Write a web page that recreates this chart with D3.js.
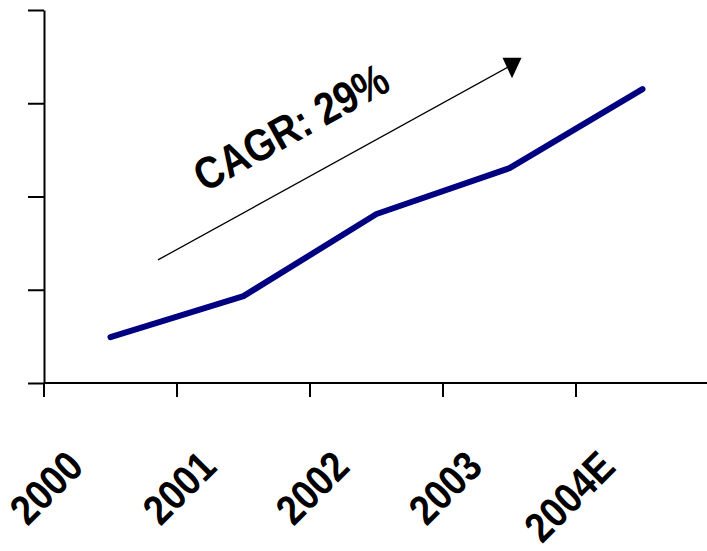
<!DOCTYPE html>
<html>
<head>
<meta charset="utf-8">
<script src="https://cdn.jsdelivr.net/npm/d3@7"></script>
<style>
    body { margin: 0; background: #fff; }
    svg { display: block; font-family: "Liberation Sans", Arial, sans-serif; }
</style>
</head>
<body>
<div id="chart"></div>
<script>
const years = ["2000", "2001", "2002", "2003", "2004E"]
const values = [12.3, 23.3, 45.3, 57.6, 78.8]
const yTicks = [0, 25, 50, 75, 100]
// arrow: positions in category-index units and y units
const arrowFrom = [0.857, 33.0]
const arrowTo = [3.519, 85.3]
const cagrLabel = "CAGR: 29%"
const cagrAt = [1.857, 68.6]

const width = 707, height = 551
const margin = { top: 10, right: 0, bottom: 168, left: 44 }
const plotH = height - margin.top - margin.bottom

const svg = d3.select("#chart")
    .append("svg")
    .attr("width", width)
    .attr("height", height)

const g = svg.append("g")
    .attr("transform", `translate(${margin.left},${margin.top})`)

const x = d3.scaleBand()
    .domain(years)
    .range([0, 665])
    .padding(0)

// same span as x, but continuous, for the annotation arrow
const xi = d3.scaleLinear()
    .domain([0, years.length])
    .range(x.range())

const y = d3.scaleLinear()
    .domain([0, 100])
    .range([plotH, 0])

// y axis - ticks only, no labels
const yAxis = g.append("g")
    .call(d3.axisLeft(y).tickValues(yTicks).tickSize(16).tickSizeOuter(0).tickFormat(""))
yAxis.selectAll("path, line").attr("stroke", "#000").attr("stroke-width", 2)

// x axis line
g.append("line")
    .attr("x1", 0)
    .attr("x2", width - margin.left)
    .attr("y1", plotH)
    .attr("y2", plotH)
    .attr("stroke", "#000")
    .attr("stroke-width", 2)

// x ticks sit at the band boundaries
g.selectAll(".xtick")
    .data(years)
    .join("line")
    .attr("class", "xtick")
    .attr("x1", d => x(d))
    .attr("x2", d => x(d))
    .attr("y1", plotH)
    .attr("y2", plotH + 14)
    .attr("stroke", "#000")
    .attr("stroke-width", 2)

// x labels, rotated and a bit condensed
g.selectAll(".xlabel")
    .data(years)
    .join("text")
    .attr("class", "xlabel")
    .attr("transform", d => `translate(${x(d) + x.bandwidth() / 2 - 25},${plotH + 86}) rotate(-45) scale(0.88,1)`)
    .attr("text-anchor", "end")
    .attr("font-size", 42)
    .attr("font-weight", "bold")
    .attr("fill", "#000")
    .text(d => d)

// the series line
const line = d3.line()
    .x((d, i) => x(years[i]) + x.bandwidth() / 2)
    .y(d => y(d))

g.append("path")
    .datum(values)
    .attr("d", line)
    .attr("fill", "none")
    .attr("stroke", "#000080")
    .attr("stroke-width", 6)
    .attr("stroke-linecap", "round")
    .attr("stroke-linejoin", "round")

// arrow head (drawn upright like the original, not along the line)
svg.append("defs").append("marker")
    .attr("id", "head")
    .attr("viewBox", "-10 -8 20 22")
    .attr("refX", 0)
    .attr("refY", 0)
    .attr("markerWidth", 20)
    .attr("markerHeight", 22)
    .attr("markerUnits", "userSpaceOnUse")
    .attr("orient", "0")
    .append("path")
    .attr("d", "M-9.5,-7L9.5,-7L0,13.5Z")
    .attr("fill", "#000")

g.append("line")
    .attr("x1", xi(arrowFrom[0]))
    .attr("y1", y(arrowFrom[1]))
    .attr("x2", xi(arrowTo[0]))
    .attr("y2", y(arrowTo[1]))
    .attr("stroke", "#000")
    .attr("stroke-width", 1.3)
    .attr("marker-end", "url(#head)")

const angle = Math.atan2(y(arrowTo[1]) - y(arrowFrom[1]), xi(arrowTo[0]) - xi(arrowFrom[0])) * 180 / Math.PI

g.append("text")
    .attr("transform", `translate(${xi(cagrAt[0])},${y(cagrAt[1])}) rotate(${angle}) scale(0.86,1)`)
    .attr("text-anchor", "middle")
    .attr("dy", "0.35em")
    .attr("font-size", 45)
    .attr("font-weight", "bold")
    .attr("fill", "#000")
    .text(cagrLabel)
</script>
</body>
</html>
